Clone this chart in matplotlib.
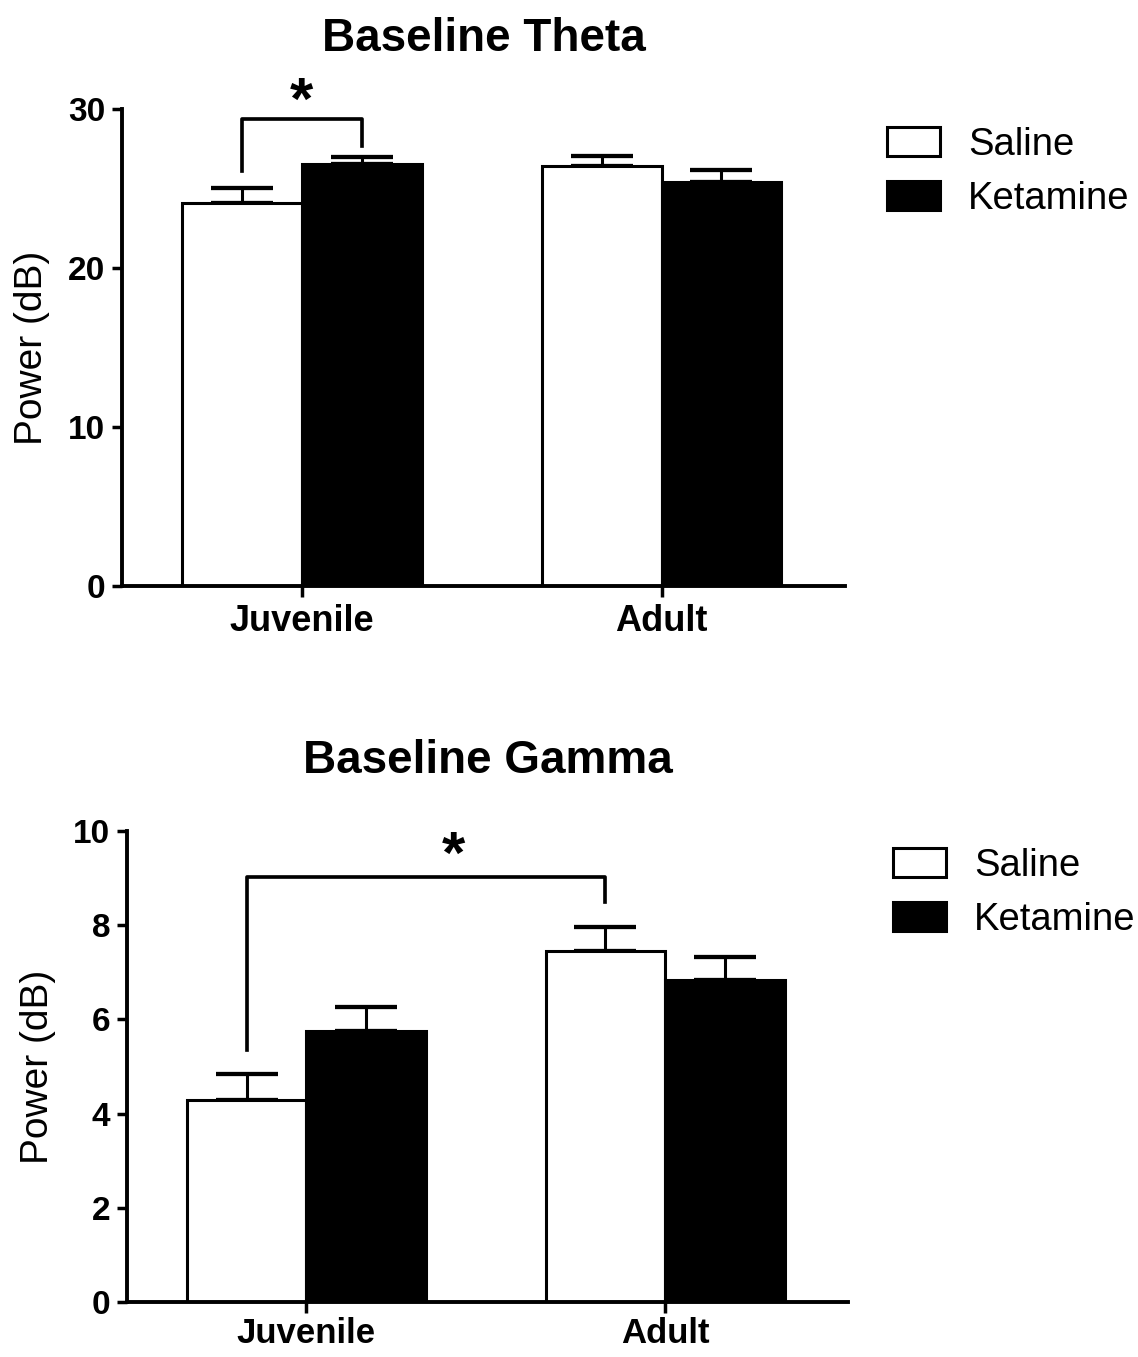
import numpy as np
import matplotlib
matplotlib.use('Agg')
import matplotlib.pyplot as plt

plt.rcParams['font.family'] = ['Liberation Sans', 'DejaVu Sans']

# values (mean and upper SEM)
groups = ['Juvenile', 'Adult']
theta_saline = [24.1, 26.4]
theta_saline_err = [0.95, 0.65]
theta_ketamine = [26.55, 25.4]
theta_ketamine_err = [0.45, 0.75]

gamma_saline = [4.28, 7.46]
gamma_saline_err = [0.56, 0.5]
gamma_ketamine = [5.76, 6.84]
gamma_ketamine_err = [0.5, 0.48]

# significance brackets: (x left, x right, y left, y top, y right, star x, star y)
theta_sig = (-1 / 6, 1 / 6, 26.1, 29.4, 27.7, 0.0, 30.35)
gamma_sig = (-1 / 6, 5 / 6, 5.35, 9.02, 8.5, 0.41, 9.45)

w = 1 / 3
lw = 2.2


def panel(ax, title, sal, sal_err, ket, ket_err, ymax, yticks, sig, ylab_x):
    x = np.arange(len(groups))
    b1 = ax.bar(x - w / 2, sal, w, color='white', edgecolor='black', linewidth=lw, label='Saline', zorder=2)
    b2 = ax.bar(x + w / 2, ket, w, color='black', edgecolor='black', linewidth=lw, label='Ketamine', zorder=2)
    ax.errorbar(x - w / 2, sal, yerr=[np.zeros(len(sal)), sal_err], fmt='none', ecolor='black',
                elinewidth=lw, capsize=22, capthick=lw * 1.4, zorder=1)
    ax.errorbar(x + w / 2, ket, yerr=[np.zeros(len(ket)), ket_err], fmt='none', ecolor='black',
                elinewidth=lw, capsize=22, capthick=lw * 1.4, zorder=1)

    # significance bracket
    x1, x2, yl, yt, yr, sx, sy = sig
    ax.plot([x1, x1, x2, x2], [yl, yt, yt, yr], color='black', lw=lw * 1.2, clip_on=False)
    ax.text(sx, sy, '*', ha='center', va='center', fontsize=43, fontweight='bold', clip_on=False)

    ax.set_xlim(-0.5, 1.51)
    ax.set_ylim(0, ymax)
    ax.set_yticks(yticks)
    ax.set_xticks(x)
    ax.set_xticklabels(groups)
    for s in ['top', 'right']:
        ax.spines[s].set_visible(False)
    for s in ['left', 'bottom']:
        ax.spines[s].set_linewidth(2.8)
    ax.tick_params(axis='y', length=7, width=2.5, labelsize=24, pad=5)
    ax.tick_params(axis='x', length=8, width=2.5, labelsize=26, pad=5)
    for lab in ax.get_xticklabels() + ax.get_yticklabels():
        lab.set_fontweight('bold')
    ax.set_ylabel('Power (dB)', fontsize=28)
    ax.yaxis.set_label_coords(ylab_x, 0.5)
    ax.set_title(title, fontsize=33, fontweight='bold', pad=42)
    return b1, b2


fig = plt.figure(figsize=(11.38, 13.57), dpi=100)

ax1 = fig.add_axes([0.1072, 0.5682, 0.6353, 0.3515])
h = panel(ax1, 'Baseline Theta', theta_saline, theta_saline_err, theta_ketamine, theta_ketamine_err,
          30, [0, 10, 20, 30], theta_sig, -0.100)
fig.legend(h, ['Saline', 'Ketamine'], loc='upper left', bbox_to_anchor=(0.7794, 0.9066),
           frameon=False, fontsize=27.5, handlelength=1.4, handleheight=0.8,
           handletextpad=0.72, labelspacing=0.47, borderpad=0, borderaxespad=0)

ax2 = fig.add_axes([0.1116, 0.0405, 0.6336, 0.3471])
h = panel(ax2, 'Baseline Gamma', gamma_saline, gamma_saline_err, gamma_ketamine, gamma_ketamine_err,
          10, [0, 2, 4, 6, 8, 10], gamma_sig, -0.098)
ax2.tick_params(axis='x', labelsize=25, pad=3)
fig.legend(h, ['Saline', 'Ketamine'], loc='upper left', bbox_to_anchor=(0.7847, 0.3751),
           frameon=False, fontsize=27.5, handlelength=1.4, handleheight=0.8,
           handletextpad=0.72, labelspacing=0.47, borderpad=0, borderaxespad=0)

fig.savefig('out.png', dpi=100)
